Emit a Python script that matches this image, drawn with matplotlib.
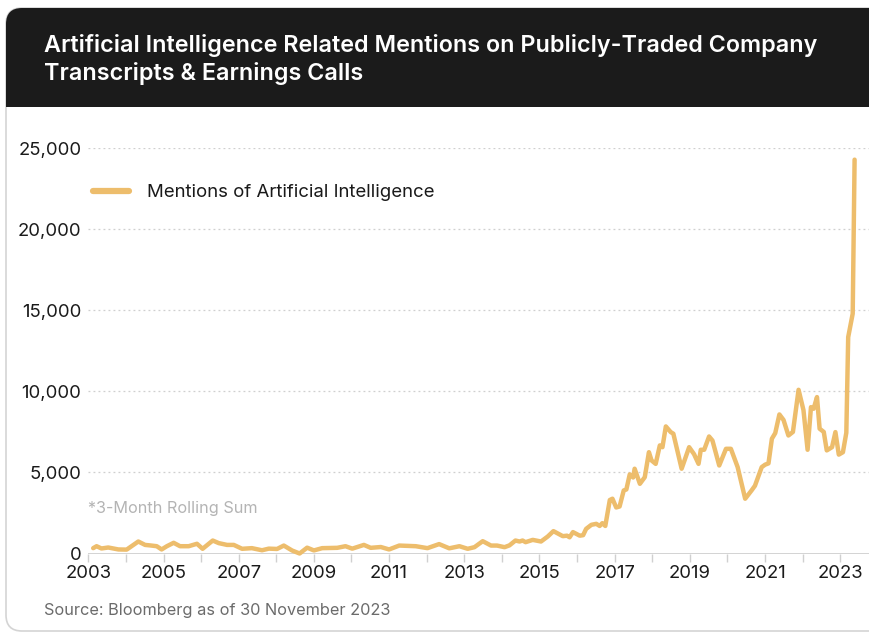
import matplotlib
matplotlib.use("Agg")
import matplotlib.pyplot as plt
from matplotlib.patches import FancyBboxPatch, Rectangle
from matplotlib.transforms import IdentityTransform
import matplotlib.ticker as mticker

# ---------------- data ----------------
dates = [
    2003.13, 2003.22, 2003.35, 2003.53, 2003.67, 2003.80, 2004.02, 2004.15, 2004.33, 2004.51,
    2004.64, 2004.82, 2004.95, 2005.09, 2005.27, 2005.44, 2005.67, 2005.89, 2006.04, 2006.15,
    2006.31, 2006.47, 2006.69, 2006.87, 2007.09, 2007.35, 2007.62, 2007.80, 2008.02, 2008.20,
    2008.42, 2008.62, 2008.82, 2009.00, 2009.22, 2009.62, 2009.84, 2010.02, 2010.33, 2010.51,
    2010.78, 2011.00, 2011.27, 2011.71, 2012.02, 2012.33, 2012.60, 2012.87, 2013.09, 2013.27,
    2013.49, 2013.71, 2013.87, 2014.07, 2014.20, 2014.36, 2014.47, 2014.55, 2014.63, 2014.82,
    2015.04, 2015.22, 2015.37, 2015.49, 2015.62, 2015.73, 2015.80, 2015.89, 2016.07, 2016.16,
    2016.24, 2016.38, 2016.51, 2016.60, 2016.67, 2016.75, 2016.87, 2016.94, 2017.04, 2017.13,
    2017.24, 2017.31, 2017.40, 2017.49, 2017.53, 2017.67, 2017.80, 2017.91, 2017.98, 2018.09,
    2018.20, 2018.27, 2018.36, 2018.49, 2018.56, 2018.78, 2018.98, 2019.11, 2019.23, 2019.29,
    2019.38, 2019.51, 2019.60, 2019.78, 2019.96, 2020.09, 2020.27, 2020.47, 2020.64, 2020.73,
    2020.91, 2021.00, 2021.09, 2021.18, 2021.27, 2021.38, 2021.49, 2021.62, 2021.74, 2021.89,
    2022.02, 2022.13, 2022.22, 2022.29, 2022.38, 2022.45, 2022.56, 2022.64, 2022.78, 2022.87,
    2022.96, 2023.07, 2023.16, 2023.21, 2023.33, 2023.38,
]
mentions = [
    330, 450, 310, 370, 310, 250, 240, 450, 740, 530,
    500, 450, 250, 450, 660, 450, 450, 600, 290, 500,
    800, 640, 530, 530, 290, 330, 200, 300, 280, 490,
    185, 0, 360, 190, 330, 350, 450, 300, 530, 350,
    400, 250, 490, 450, 330, 580, 320, 450, 290, 390,
    760, 490, 490, 390, 500, 800, 740, 800, 700, 840,
    740, 1050, 1380, 1230, 1070, 1100, 1000, 1320, 1100, 1130,
    1520, 1770, 1830, 1700, 1870, 1700, 3300, 3380, 2840, 2900,
    3890, 3950, 4880, 4690, 5230, 4300, 4710, 6250, 5740, 5530,
    6670, 6560, 7840, 7490, 7390, 5230, 6560, 6130, 5530, 6400,
    6400, 7220, 6970, 5430, 6460, 6460, 5330, 3380, 3890, 4180,
    5330, 5480, 5560, 7080, 7430, 8580, 8240, 7280, 7500, 10100,
    8850, 6400, 9030, 8930, 9650, 7700, 7500, 6360, 6560, 7490,
    6100, 6250, 7450, 13350, 14800, 24300,
]
y_ticks = [0, 5000, 10000, 15000, 20000, 25000]
x_label_years = [2003, 2005, 2007, 2009, 2011, 2013, 2015, 2017, 2019, 2021, 2023]
x_tick_years = list(range(2003, 2024))

title_lines = ["Artificial Intelligence Related Mentions on Publicly-Traded Company",
               "Transcripts & Earnings Calls"]
series_name = "Mentions of Artificial Intelligence"
note_text = "*3-Month Rolling Sum"
source_text = "Source: Bloomberg as of 30 November 2023"

# ---------------- styling ----------------
LINE = "#EDBD6C"
FONT = ["Inter", "DejaVu Sans"]
plt.rcParams["font.family"] = FONT

W, H = 870, 633
fig = plt.figure(figsize=(W / 100, H / 100), dpi=100)
fig.patch.set_facecolor("white")
ident = IdentityTransform()

# card with border
card = FancyBboxPatch((6, 2), 1000, H - 2 - 8,
                      boxstyle="round,pad=0,rounding_size=16",
                      facecolor="white", edgecolor="#d4d4d4", linewidth=1.2,
                      transform=ident, zorder=0.1)
fig.add_artist(card)
# dark header with rounded top corners
header = FancyBboxPatch((6, H - 107), 1000, 99,
                        boxstyle="round,pad=0,rounding_size=16",
                        facecolor="#1b1b1b", edgecolor="none",
                        transform=ident, zorder=0.2)
fig.add_artist(header)
fig.add_artist(Rectangle((6, H - 107), 1000, 40, facecolor="#1b1b1b",
                         edgecolor="none", transform=ident, zorder=0.2))

fig.text(44, H - 52, title_lines[0], transform=ident, color="white",
         fontsize=16.8, fontweight="semibold", va="baseline", ha="left", zorder=3)
fig.text(44, H - 80, title_lines[1], transform=ident, color="white",
         fontsize=16.8, fontweight="semibold", va="baseline", ha="left", zorder=3)

# axes
x0, x1 = 88.3, 870
ytop, ybot = 148.3, 553.5
ax = fig.add_axes([x0 / W, (H - ybot) / H, (x1 - x0) / W, (ybot - ytop) / H])
ax.set_zorder(2)
ax.patch.set_alpha(0)
ax.set_xlim(2003, 2003 + (x1 - x0) / 37.6)
ax.set_ylim(0, 25000)

ax.plot(dates, mentions, color=LINE, lw=3.2, solid_joinstyle="round",
        solid_capstyle="round", clip_on=False, label=series_name, zorder=3)

for s in ax.spines.values():
    s.set_visible(False)
ax.axhline(0, color="#d0d0d0", lw=1.3, zorder=1)
for v in y_ticks[1:]:
    ax.axhline(v, color="#cfcfcf", lw=0.9, ls=(0, (1.5, 2.5)), zorder=1)

ax.set_yticks(y_ticks)
ax.yaxis.set_major_formatter(mticker.FuncFormatter(lambda v, p: f"{int(v):,}"))
ax.tick_params(axis="y", length=0, pad=5, labelsize=13.3, labelcolor="#1a1a1a")

ax.set_xticks(x_tick_years)
ax.set_xticklabels([str(y) if y in x_label_years else "" for y in x_tick_years])
ax.tick_params(axis="x", length=6, width=1.0, color="#d0d0d0", pad=2,
               labelsize=13.3, labelcolor="#1a1a1a")

leg = ax.legend(loc="center left", bbox_to_anchor=(0.006, 0.890), frameon=False,
                handlelength=1.95, handletextpad=0.95, borderpad=0, borderaxespad=0,
                fontsize=13.4)
for line in leg.get_lines():
    line.set_linewidth(4.5)
    line.set_solid_capstyle("round")
for t in leg.get_texts():
    t.set_color("#1a1a1a")

fig.text(88, H - 509, note_text, transform=ident, color="#b4b4b4",
         fontsize=11.7, va="center", ha="left", zorder=3)
fig.text(44, H - 610, source_text, transform=ident, color="#6b6b6b",
         fontsize=11.75, va="center", ha="left", zorder=3)

fig.savefig("out.png", dpi=100)
